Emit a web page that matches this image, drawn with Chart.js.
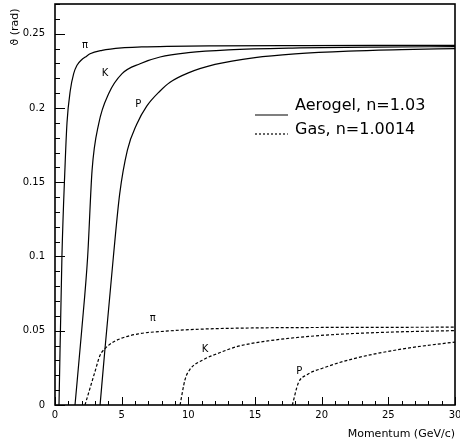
<!DOCTYPE html>
<html>
<head>
<meta charset="utf-8">
<title>Cherenkov angle vs momentum</title>
<script src="https://cdn.jsdelivr.net/npm/chart.js"></script>
<style>
  body { margin: 0; background: #fff; }
  #wrap { width: 460px; height: 444px; }
</style>
</head>
<body>
<div id="wrap"><canvas id="chart" width="460" height="444"></canvas></div>
<script>
// Aerogel radiator, n = 1.03 (momentum in GeV/c, angle in rad)
const aeroPiP = [0.3, 0.52, 0.75, 0.9, 1.15, 1.4, 1.65, 2.0, 2.28, 2.63, 3.53, 5.0, 6.5, 8.4, 12, 18, 24, 30];
const aeroPiTheta = [0, 0.1, 0.16, 0.19, 0.2119, 0.2231, 0.2287, 0.2325, 0.2343, 0.2365, 0.2388, 0.2405, 0.2411, 0.2415, 0.2418, 0.2420, 0.2421, 0.2421];
const aeroKP = [1.5, 2.0, 2.45, 2.78, 3.28, 4.03, 5.03, 6.38, 7.88, 10, 13, 18.4, 24, 30];
const aeroKTheta = [0, 0.05, 0.1, 0.158, 0.1895, 0.2097, 0.2231, 0.2298, 0.2343, 0.2372, 0.2391, 0.2404, 0.2410, 0.2413];
const aeroPP = [3.38, 3.75, 4.38, 4.85, 5.43, 6.13, 6.88, 7.88, 8.63, 10, 12, 15, 18, 22, 26, 30];
const aeroPTheta = [0, 0.038, 0.1, 0.142, 0.1716, 0.189, 0.2012, 0.2114, 0.2173, 0.2236, 0.2293, 0.2339, 0.2364, 0.2383, 0.2393, 0.2400];

// Gas radiator, n = 1.0014
const gasPiP = [2.25, 3.0, 3.38, 3.75, 4.3, 5.0, 6.25, 8.25, 11, 15, 20, 25, 30];
const gasPiTheta = [0, 0.0225, 0.0335, 0.038, 0.042, 0.045, 0.0479, 0.0497, 0.0511, 0.0519, 0.0522, 0.0523, 0.0524];
const gasKP = [9.38, 9.75, 10.1, 11.1, 12.3, 13.6, 16.1, 19.9, 24.9, 30];
const gasKTheta = [0, 0.017, 0.0237, 0.0304, 0.035, 0.0392, 0.0433, 0.0468, 0.049, 0.0501];
const gasPP = [17.8, 18.25, 18.9, 20.1, 22.4, 26.1, 30];
const gasPTheta = [0, 0.0148, 0.0204, 0.0249, 0.0312, 0.0378, 0.0424];

const xTicks = [0, 5, 10, 15, 20, 25, 30];
const xTickLabels = ['0', '5', '10', '15', '20', '25', '30'];
const yTicks = [0, 0.05, 0.1, 0.15, 0.2, 0.25];
const yTickLabels = ['0', '0.05', '0.1', '0.15', '0.2', '0.25'];

// particle names written next to each curve: [text, momentum, angle]
const curveNames = [
  ['π', 2.25, 0.2421], ['K', 3.75, 0.2231], ['P', 6.25, 0.2024],
  ['π', 7.33, 0.0585], ['K', 11.25, 0.0372], ['P', 18.32, 0.0226]
];

const pts = (xs, ys) => xs.map((v, i) => ({ x: v, y: ys[i] }));
const curve = (xs, ys, dashed) => ({
  data: pts(xs, ys),
  showLine: true,
  borderColor: '#000',
  borderWidth: 1.2,
  borderDash: dashed ? [3, 2] : [],
  pointRadius: 0,
  cubicInterpolationMode: 'monotone'
});

const FONT = '"DejaVu Sans", sans-serif';

const frame = {
  id: 'frame',
  afterDatasetsDraw(chart) {
    const { ctx, chartArea: a, scales: { x, y } } = chart;
    ctx.save();
    ctx.strokeStyle = '#000';
    ctx.fillStyle = '#000';

    // ticks pointing into the plot
    ctx.lineWidth = 1;
    for (let v = 0; v <= 30; v++) {
      const px = Math.round(x.getPixelForValue(v)) + 0.5;
      const len = v % 5 === 0 ? 8 : 4;
      ctx.beginPath(); ctx.moveTo(px, a.bottom); ctx.lineTo(px, a.bottom - len); ctx.stroke();
    }
    for (let i = 0; i <= 27; i++) {
      const py = Math.round(y.getPixelForValue(i / 100)) + 0.5;
      const len = i % 5 === 0 ? 10 : 5;
      ctx.beginPath(); ctx.moveTo(a.left, py); ctx.lineTo(a.left + len, py); ctx.stroke();
    }

    ctx.lineWidth = 1.6;
    ctx.strokeRect(a.left, a.top, a.right - a.left, a.bottom - a.top);

    // tick labels
    ctx.font = '10px ' + FONT;
    ctx.textAlign = 'center';
    ctx.textBaseline = 'middle';
    xTicks.forEach((v, i) => ctx.fillText(xTickLabels[i], x.getPixelForValue(v), a.bottom + 10));
    ctx.textAlign = 'right';
    yTicks.forEach((v, i) => ctx.fillText(yTickLabels[i], a.left - 10, y.getPixelForValue(v)));

    // axis titles
    ctx.font = '11px ' + FONT;
    ctx.textAlign = 'right';
    ctx.fillText('Momentum (GeV/c)', a.right, a.bottom + 29);
    ctx.save();
    ctx.translate(15, 27);
    ctx.rotate(-Math.PI / 2);
    ctx.textAlign = 'center';
    ctx.fillText('ϑ (rad)', 0, 0);
    ctx.restore();

    // curve names
    ctx.font = '10px ' + FONT;
    ctx.textAlign = 'center';
    curveNames.forEach(([t, p, th]) => ctx.fillText(t, x.getPixelForValue(p), y.getPixelForValue(th)));

    // legend
    ctx.lineWidth = 1.2;
    ctx.beginPath(); ctx.moveTo(255, 115); ctx.lineTo(288, 115); ctx.stroke();
    ctx.setLineDash([2, 2]);
    ctx.beginPath(); ctx.moveTo(255, 134); ctx.lineTo(288, 134); ctx.stroke();
    ctx.setLineDash([]);
    ctx.font = '16px ' + FONT;
    ctx.textAlign = 'left';
    ctx.textBaseline = 'alphabetic';
    ctx.fillText('Aerogel, n=1.03', 295, 110);
    ctx.fillText('Gas, n=1.0014', 295, 134);
    ctx.restore();
  }
};

new Chart(document.getElementById('chart').getContext('2d'), {
  type: 'scatter',
  data: {
    datasets: [
      curve(aeroPiP, aeroPiTheta, false),
      curve(aeroKP, aeroKTheta, false),
      curve(aeroPP, aeroPTheta, false),
      curve(gasPiP, gasPiTheta, true),
      curve(gasKP, gasKTheta, true),
      curve(gasPP, gasPTheta, true)
    ]
  },
  options: {
    responsive: false,
    animation: false,
    layout: { padding: { left: 55, right: 5, top: 4, bottom: 39 } },
    plugins: { legend: { display: false }, tooltip: { enabled: false } },
    scales: {
      x: { type: 'linear', min: 0, max: 30, display: false },
      y: { type: 'linear', min: 0, max: 0.27, display: false }
    }
  },
  plugins: [frame]
});
</script>
</body>
</html>
